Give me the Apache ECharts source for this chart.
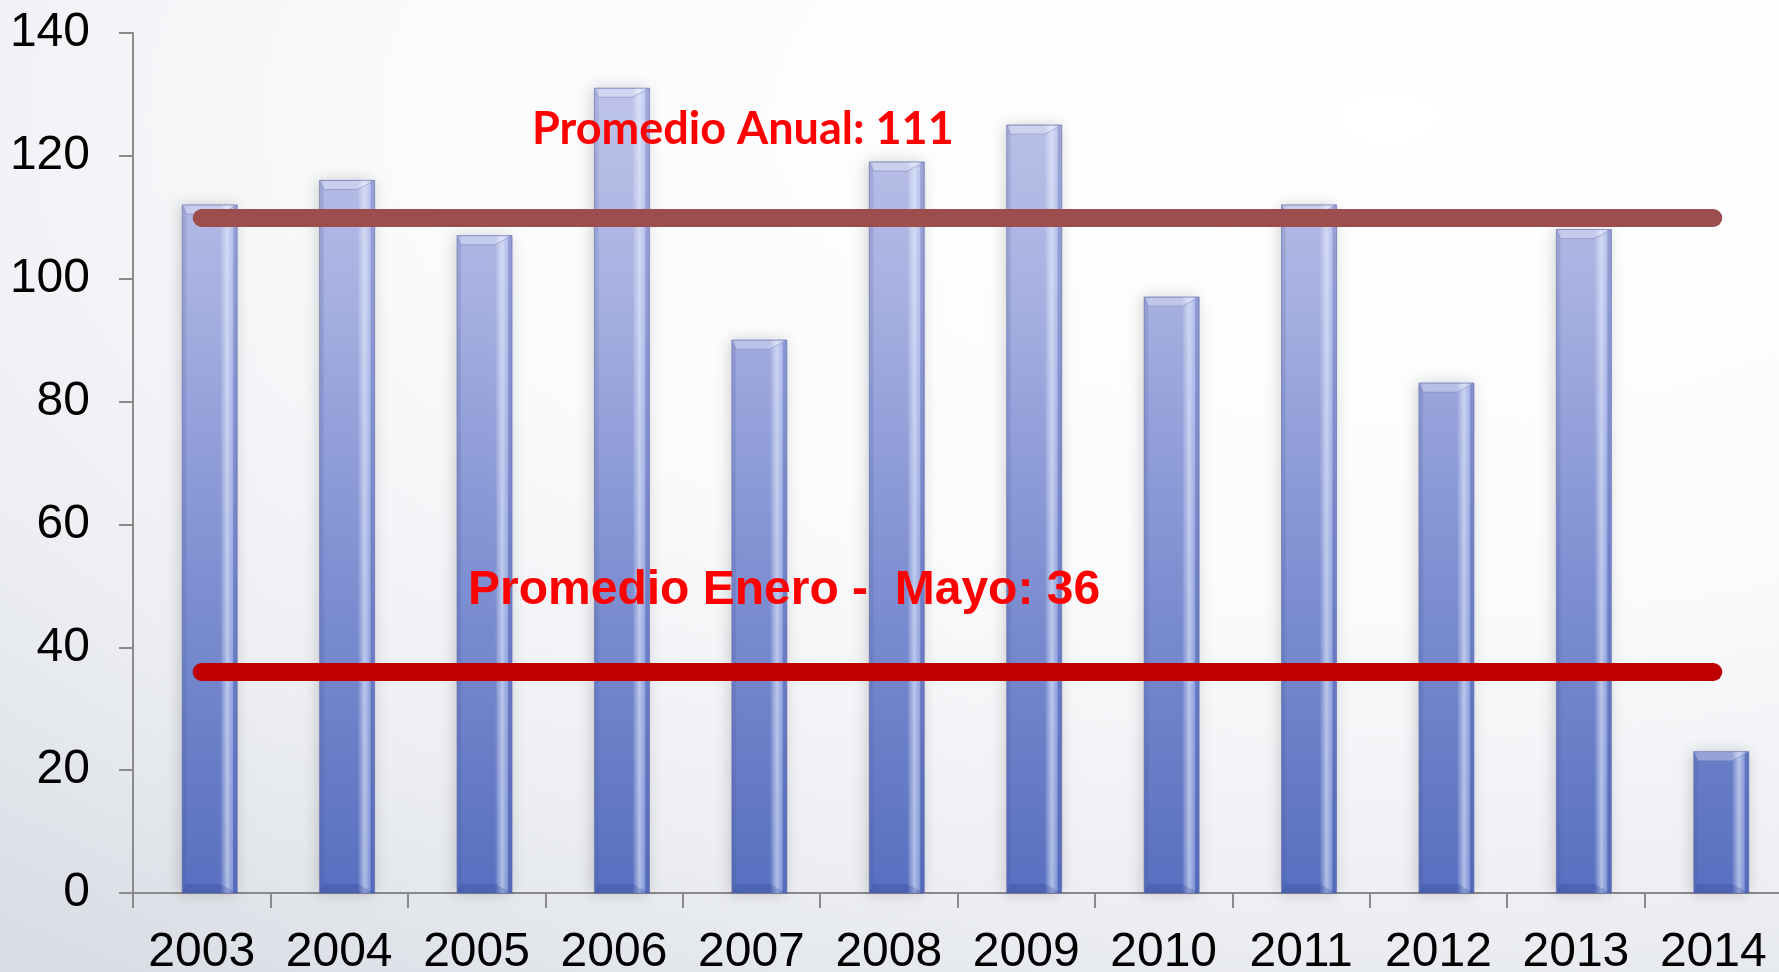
<!DOCTYPE html>
<html>
<head>
<meta charset="utf-8">
<script src="https://cdn.jsdelivr.net/npm/echarts@6/dist/echarts.min.js"></script>
<style>
html,body{margin:0;padding:0;width:1779px;height:972px;overflow:hidden;}
body{background:radial-gradient(ellipse 120% 110% at 78% 12%, #ffffff 0%, #fafbfc 45%, #eceef2 75%, #d9dde4 100%);}
#c{width:1779px;height:972px;}
</style>
</head>
<body>
<div id="c"></div>
<script>
const years = ['2003','2004','2005','2006','2007','2008','2009','2010','2011','2012','2013','2014'];
const counts = [112, 116, 107, 131, 90, 119, 125, 97, 112, 83, 108, 23];
const avgAnnual = 110;
const avgJanMay = 36;
const labelAnnual = 'Promedio Anual: 111';
const labelJanMay = 'Promedio Enero -  Mayo: 36';
const yTicks = [0, 140, 20];

const chart = echarts.init(document.getElementById('c'), null, {renderer:'canvas'});

function renderBar(params, api){
  const idx = api.value(0), val = api.value(1);
  const top = api.coord([idx, val]);
  const base = api.coord([idx, 0]);
  const plotTop = api.coord([idx, yTicks[1]])[1];
  const bw = 55, shift = 8;
  const cx = top[0] + shift;
  const x0 = cx - bw/2, x1 = cx + bw/2, y0 = top[1], y1 = base[1];
  const h = y1 - y0;
  const bev = Math.min(9, h/2);
  const grad = new echarts.graphic.LinearGradient(0, plotTop, 0, y1, [
    {offset:0, color:'#c4c9ea'},
    {offset:0.3, color:'#a7b1e1'},
    {offset:0.6, color:'#8292d3'},
    {offset:1, color:'#5870c0'}
  ], true);
  const strip = new echarts.graphic.LinearGradient(0,0,1,0,[
    {offset:0, color:'rgba(255,255,255,0.0)'},
    {offset:0.55, color:'rgba(235,242,255,0.6)'},
    {offset:1, color:'rgba(200,215,255,0.35)'}
  ]);
  return {
    type:'group',
    children:[
      {type:'rect', shape:{x:x0, y:y0, width:bw, height:h},
       style:{fill:grad, stroke:'rgba(95,105,170,0.6)', lineWidth:1, shadowBlur:14, shadowColor:'rgba(0,0,0,0.18)', shadowOffsetX:-2}},
      {type:'rect', shape:{x:x0, y:y0, width:4, height:h}, style:{fill:'rgba(70,80,150,0.16)'}},
      {type:'rect', shape:{x:x1-17, y:y0, width:13, height:h}, style:{fill:strip}},
      {type:'rect', shape:{x:x1-4, y:y0, width:4, height:h}, style:{fill:'rgba(80,90,170,0.25)'}},
      {type:'polygon', shape:{points:[[x0,y0],[x1,y0],[x1-17,y0+bev],[x0+4,y0+bev]]},
       style:{fill:'rgba(255,255,255,0.3)', stroke:'rgba(110,120,185,0.45)', lineWidth:1}},
      {type:'polygon', shape:{points:[[x0+4,y1-bev],[x1-17,y1-bev],[x1,y1],[x0,y1]]},
       style:{fill:'rgba(40,60,150,0.25)'}}
    ]
  };
}

chart.setOption({
  backgroundColor:'transparent',
  animation:false,
  grid:{left:133, top:33, width:1649, height:860, containLabel:false, outerBoundsMode:'none'},
  xAxis:{
    type:'category', data:years, boundaryGap:true,
    axisLine:{lineStyle:{color:'#8a8a8a', width:2}},
    axisTick:{show:true, length:15, inside:false, lineStyle:{color:'#8a8a8a', width:2}},
    axisLabel:{color:'#000', fontSize:48, fontFamily:'Liberation Sans, Arial, sans-serif', margin:36, interval:0},
    splitLine:{show:false}
  },
  yAxis:{
    type:'value', min:yTicks[0], max:yTicks[1], interval:yTicks[2],
    axisLine:{show:true, lineStyle:{color:'#8a8a8a', width:2}},
    axisTick:{show:true, length:14, inside:false, lineStyle:{color:'#8a8a8a', width:2}},
    axisLabel:{color:'#000', fontSize:48, fontFamily:'Liberation Sans, Arial, sans-serif', margin:43},
    splitLine:{show:false}
  },
  series:[{
    type:'custom',
    renderItem:renderBar,
    data: counts.map((v,i)=>[i, v]),
    encode:{x:0, y:1},
    z:2,
    markLine:{
      silent:true, symbol:['none','none'], animation:false,
      label:{show:false},
      z:5,
      data:[
        [{coord:[years[0], avgAnnual], lineStyle:{color:'#9c4e4e', width:18, cap:'round', type:'solid'}},
         {coord:[years[years.length-1], avgAnnual]}],
        [{coord:[years[0], avgJanMay], lineStyle:{color:'#c00000', width:18, cap:'round', type:'solid'}},
         {coord:[years[years.length-1], avgJanMay]}]
      ]
    }
  }],
  graphic:[
    {type:'text', left:532, top:107, z:10,
     style:{text:labelAnnual, fill:'#ff0000', font:'bold 45px Lato, "Open Sans", sans-serif'}},
    {type:'text', left:468, top:567, z:10,
     style:{text:labelJanMay, fill:'#ff0000', font:'bold 48px "Liberation Sans", Arial, sans-serif'}}
  ]
});
</script>
</body>
</html>
